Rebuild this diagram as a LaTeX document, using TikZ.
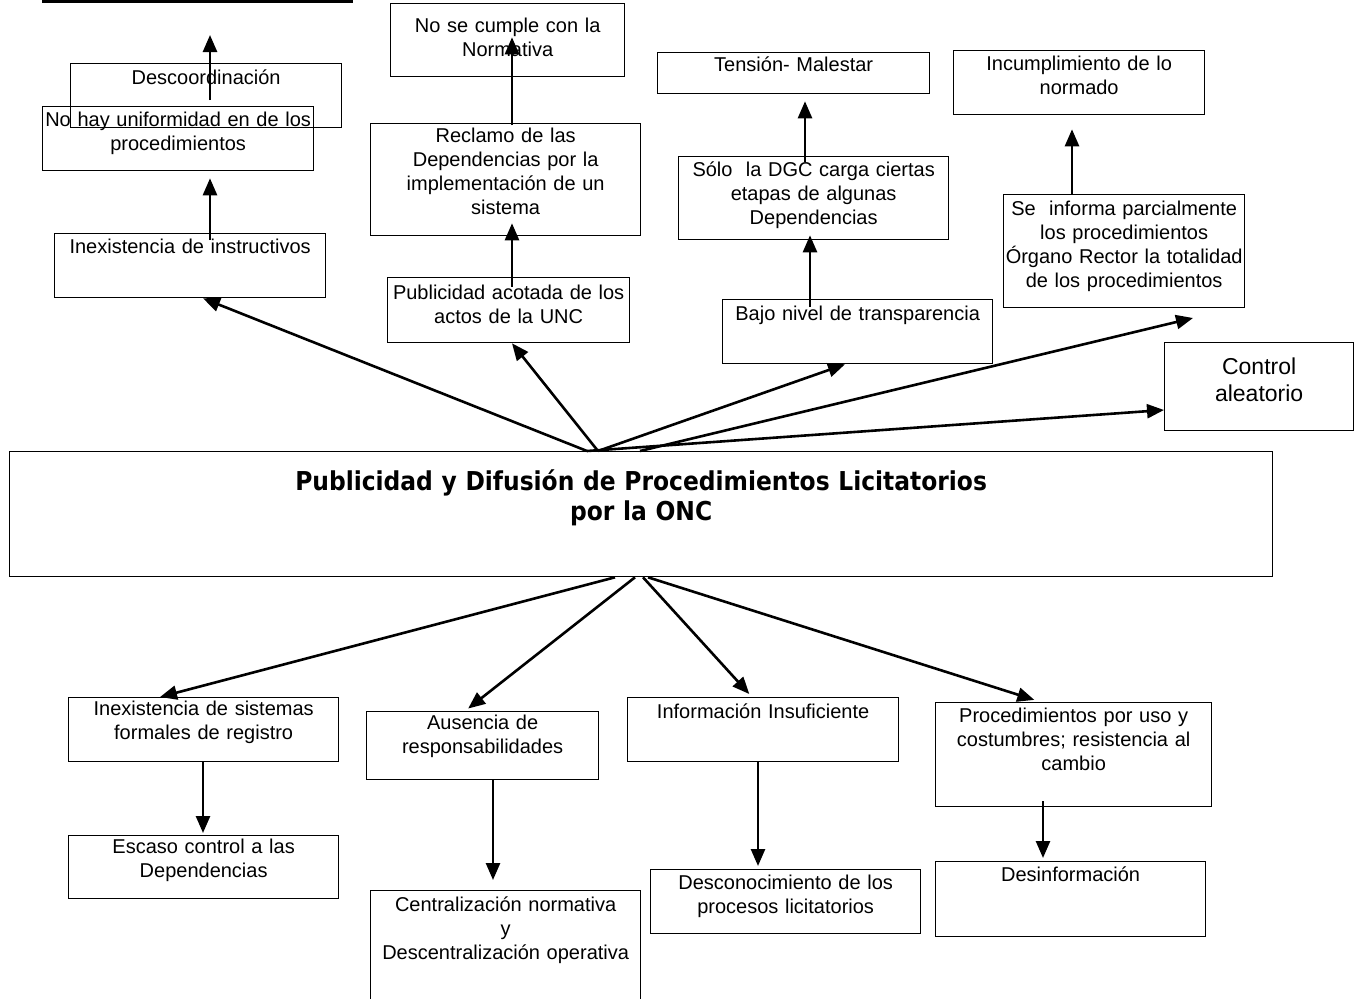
\documentclass[tikz,border=0pt]{standalone}
\usepackage{fontspec}
\setmainfont{Liberation Sans}
\newfontfamily\titlefont{DejaVu Sans Condensed Bold}
\usetikzlibrary{arrows.meta,calc}

\begin{document}
\begin{tikzpicture}[x=1pt, y=-1pt, >={Triangle[length=17pt,width=14pt]},
      font=\fontsize{20}{24}\selectfont,
      box/.style n args={3}{draw,line width=1.3pt,anchor=north west,inner sep=0pt,
        align=center,text width=#1,text height=#3,text depth={#2-#3}},
      link/.style={line width=2.6pt,->}]
    \useasboundingbox (0,0) rectangle (1358,999);
    \draw[line width=2.6pt] (42,1.3) -- (353,1.3);
  % effects (upper row)
    \node[box={271}{64}{21}] at (70,63) (desc) {Descoordinación};
    \node[box={271}{64}{20}] at (42,106) (unif) {No hay uniformidad en de los\\procedimientos};
    \node[box={271}{64}{20}] at (54,233) (inex) {Inexistencia de instructivos};
    \node[box={234}{73}{29}] at (390,3) (norm) {No se cumple con la\\Normativa};
    \node[box={270}{112}{19}] at (370,123) (recl) {Reclamo de las\\Dependencias por la\\implementación de un\\sistema};
    \node[box={242}{65}{22}] at (387,277) (pub) {Publicidad acotada de los\\actos de la UNC};
    \node[box={272}{41}{19}] at (657,52) (tens) {Tensión- Malestar};
    \node[box={270}{83}{20}] at (678,156) (dgc) {Sólo\ \ la DGC carga ciertas\\etapas de algunas\\Dependencias};
    \node[box={270}{64}{21}] at (722,299) (bajo) {Bajo nivel de transparencia};
    \node[box={251}{64}{20}] at (953,50) (incump) {Incumplimiento de lo\\normado};
    \node[box={241}{113}{21}] at (1003,194) (informa) {Se\ \ informa parcialmente\\los procedimientos\\Órgano Rector la totalidad\\de los procedimientos};
    \node[box={189}{88}{32}, font=\fontsize{23}{27}\selectfont] at (1164,342) (ctrl) {Control\\aleatorio};
  % central problem
    \node[box={1263}{125}{39}, font=\titlefont\fontsize{26}{30}\selectfont] at (9,451) (pdp)
      {Publicidad y Difusión de Procedimientos Licitatorios\\por la ONC};
  % causes (lower row)
    \node[box={270}{64}{18}] at (68,697) (sis) {Inexistencia de sistemas\\formales de registro};
    \node[box={270}{63}{18}] at (68,835) (escaso) {Escaso control a las\\Dependencias};
    \node[box={232}{68}{18}] at (366,711) (aus) {Ausencia de\\responsabilidades};
    \node[box={270}{115}{21}] at (370,890) (central) {Centralización normativa\\y\\Descentralización operativa};
    \node[box={271}{64}{21}] at (627,697) (infins) {Información Insuficiente};
    \node[box={270}{64}{20}] at (650,869) (descon) {Desconocimiento de los\\procesos licitatorios};
    \node[box={276}{104}{20}] at (935,702) (proc) {Procedimientos por uso y\\costumbres; resistencia al\\cambio};
    \node[box={270}{75}{20}] at (935,861) (desinf) {Desinformación};
    \coordinate (up1) at (210,35);
    \coordinate (tipinf) at (1193,318);
  % arrows out of the central box
    \draw[link] (pdp.north -| 587,0) -- (inex.south -| 203,0);
    \draw[link] (pdp.north -| 598,0) -- (pub.south -| 512,0);
    \draw[link] (pdp.north -| 598,0) -- (bajo.south -| 845,0);
    \draw[link] (pdp.north -| 640,0) -- (tipinf);
    \draw[link] (pdp.north -| 587,0) -- (ctrl.west |- 0,410);
    \draw[link] (pdp.south -| 615,0) -- (sis.north -| 160,0);
    \draw[link,shorten >=4pt] (pdp.south -| 635,0) -- (aus.north -| 465,0);
    \draw[link,shorten >=4pt] (pdp.south -| 643,0) -- (infins.north -| 752,0);
    \draw[link,shorten >=7pt] (pdp.south -| 648,0) -- (proc.north -| 1041,0);
  % vertical chains
    \draw[link,shorten <=-37pt] (desc.north -| up1) -- (up1);
        \draw[link,shorten <=-7pt,shorten >=7pt] (inex.north -| up1) -- (unif.south -| up1);
    \draw[link,shorten <=-2pt,shorten >=-40pt] (recl.north -| 512,0) -- (norm.south -| 512,0);
        \draw[link,shorten <=-10pt,shorten >=-13pt] (pub.north -| 512,0) -- (recl.south -| 512,0);
    \draw[link,shorten <=-6pt,shorten >=7pt] (dgc.north -| 805,0) -- (tens.south -| 805,0);
        \draw[link,shorten <=-8pt,shorten >=-5pt] (bajo.north -| 810,0) -- (dgc.south -| 810,0);
    \draw[link,shorten >=14pt] (informa.north -| 1072,0) -- (incump.south -| 1072,0);
    \draw[link,shorten >=2pt] (sis.south -| 203,0) -- (escaso.north -| 203,0);
    \draw[link,shorten >=10pt] (aus.south -| 493,0) -- (central.north -| 493,0);
    \draw[link,shorten >=3pt] (infins.south -| 758,0) -- (descon.north -| 758,0);
    \draw[link,shorten <=-6pt,shorten >=3pt] (proc.south -| 1043,0) -- (desinf.north -| 1043,0);
\end{tikzpicture}
\end{document}
